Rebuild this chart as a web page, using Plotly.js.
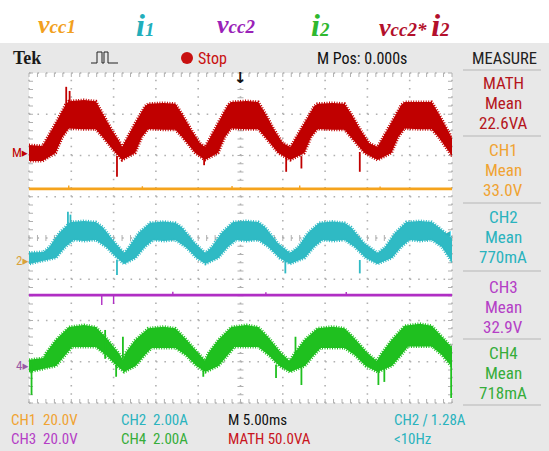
<!DOCTYPE html>
<html><head><meta charset="utf-8">
<script src="https://cdn.plot.ly/plotly-3.0.1.min.js"></script>
<style>html,body{margin:0;padding:0;background:#fff;}#chart{width:549px;height:451px;}</style>
</head><body><div id="chart"></div>
<script>
// ---------------- data (time in ms, 5.00 ms/div) ----------------
// MATH = vcc2*i2 (VA) : noisy band, upper / lower envelopes
const mathUpperT = [-25,-23.4,-21.85,-20.7,-20.3,-18.5,-17.1,-16.3,-15.2,-14.2,-14.0,-12.45,-11.3,-10.9,-9.1,-7.7,-6.9,-5.8,-4.8,-4.2,-2.65,-1.5,-1.1,0.7,2.1,2.9,4.0,5.0,5.9,7.55,8.7,9.1,10.9,12.3,13.1,14.2,15.2,16.2,17.85,19.0,19.4,21.2,22.6,23.4,24.5,25];
const mathUpperV = [8.5,7.3,35.2,57.0,61.5,63.0,61.5,47.3,26.7,10.9,6.1,35.2,55.5,58.5,59.5,58.5,46.0,26.7,10.9,6.1,35.2,57.0,60.6,61.8,60.6,47.3,26.7,10.9,6.1,35.2,55.5,58.5,59.5,58.5,46.0,26.7,10.9,6.1,35.2,57.0,60.6,61.0,60.6,47.3,26.7,17.0];
const mathLowerT = [-25,-23.4,-21.85,-21.05,-20.3,-18.5,-17.1,-16.3,-14.75,-14.0,-12.45,-11.65,-10.9,-9.1,-7.7,-6.9,-5.35,-4.2,-2.65,-1.85,-1.1,0.7,2.1,2.9,4.45,5.9,7.55,8.35,9.1,10.9,12.3,13.1,14.65,16.2,17.85,18.65,19.4,21.2,22.6,23.4,25];
const mathLowerV = [-10.9,-10.9,-1.2,18.2,28.5,27.5,27.5,18.2,-1.2,-9.7,-1.2,18.2,28.0,27.0,27.0,18.2,-1.2,-9.7,-1.2,18.2,28.5,27.5,27.5,18.2,-1.2,-9.7,-1.2,18.2,28.0,27.0,27.0,18.2,-1.2,-9.7,-1.2,18.2,28.5,27.5,27.5,18.2,-5.0];
const mathSpikeT    = [-20.6,-20.2,-14.6,-4.3,5.4,7.2,14.1];
const mathSpikeFrom = [40,50,-5,-5,-5,-5,0];
const mathSpikeTo   = [79,74,-30,-16,-24,-20,-24];

// CH1 = vcc1 (V)
const ch1T = [-25,25];
const ch1V = [33.0,33.0];
const ch1SpikeT = [-20.3,-11.6,-1.0,7.0,16.5];
const ch1SpikeFrom = [33.0,33.0,33.0,33.0,33.0];
const ch1SpikeTo = [34.6,34.3,34.4,34.6,34.2];

// CH2 = i1 (A)
const ch2UpperT = [-25,-23.3,-22.6,-21.45,-20.1,-18.5,-17.1,-16.3,-14.8,-13.75,-13.2,-12.05,-10.7,-9.1,-7.7,-6.9,-5.4,-4.15,-3.4,-2.25,-0.9,0.7,2.1,2.9,4.4,5.85,6.8,7.95,9.3,10.9,12.3,13.1,14.6,16.2,17.1,18.25,19.6,21.2,22.6,23.4,25];
const ch2UpperV = [0.36,0.39,0.63,1.31,1.84,1.89,1.84,1.60,0.82,0.34,0.63,1.31,1.80,1.86,1.80,1.58,0.82,0.34,0.63,1.31,1.84,1.89,1.84,1.60,0.82,0.34,0.63,1.31,1.80,1.86,1.80,1.58,0.82,0.34,0.63,1.31,1.84,1.89,1.84,1.60,1.05];
const ch2LowerT = [-25,-21.8,-20.7,-19.7,-18.5,-17.1,-15.9,-14.6,-13.75,-12.4,-11.3,-10.3,-9.1,-7.7,-6.5,-5.2,-4.15,-2.6,-1.5,-0.5,0.7,2.1,3.3,4.6,5.85,7.6,8.7,9.7,10.9,12.3,13.5,14.8,16.2,17.9,19.0,20.0,21.2,22.6,23.8,25];
const ch2LowerV = [-0.19,0.10,0.63,0.97,0.92,0.97,0.63,0.10,-0.19,0.10,0.63,0.97,0.92,0.97,0.63,0.10,-0.19,0.10,0.63,0.97,0.92,0.97,0.63,0.10,-0.19,0.10,0.63,0.97,0.92,0.97,0.63,0.10,-0.19,0.10,0.63,0.97,0.92,0.97,0.63,-0.10];
const ch2SpikeT    = [-20.4,-20.1,-14.6,5.3,14.1];
const ch2SpikeFrom = [1.6,1.6,0,0,0];
const ch2SpikeTo   = [2.34,2.2,-0.73,-0.65,-0.65];

// CH3 = vcc2 (V)
const ch3T = [-25,25];
const ch3V = [32.9,32.9];
const ch3SpikeT = [-16.4,-15.0,-8.0,3.0,12.5];
const ch3SpikeFrom = [32.9,32.9,32.9,32.9,32.9];
const ch3SpikeTo = [28.1,28.6,34.5,34.3,34.4];

// CH4 = i2 (A)
const ch4UpperT = [-25,-23.3,-23.0,-21.85,-20.3,-18.5,-17.1,-15.95,-14.4,-13.9,-13.6,-12.45,-10.9,-9.1,-7.7,-6.55,-5.0,-4.2,-3.8,-2.65,-1.1,0.7,2.1,3.25,4.8,5.8,6.4,7.55,9.1,10.9,12.3,13.45,15.0,16.1,16.7,17.85,19.4,21.2,22.6,23.75,25];
const ch4UpperV = [0.25,0.34,0.58,1.21,1.84,1.94,1.84,1.36,0.58,0.25,0.58,1.21,1.78,1.86,1.78,1.30,0.58,0.22,0.58,1.21,1.84,1.94,1.84,1.36,0.58,0.20,0.58,1.21,1.78,1.86,1.78,1.30,0.58,0.20,0.58,1.21,1.90,2.00,1.90,1.40,0.85];
const ch4LowerT = [-25,-21.8,-20.7,-19.9,-18.5,-17.1,-15.9,-14.6,-13.75,-12.4,-11.3,-10.5,-9.1,-7.7,-6.5,-5.2,-4.15,-2.6,-1.5,-0.7,0.7,2.1,3.3,4.6,5.85,7.6,8.7,9.5,10.9,12.3,13.5,14.8,16.2,17.9,19.0,19.8,21.2,22.6,23.8,25];
const ch4LowerV = [-0.34,-0.05,0.48,0.87,0.87,0.87,0.48,-0.05,-0.34,-0.05,0.48,0.82,0.82,0.82,0.48,-0.05,-0.34,-0.05,0.48,0.87,0.87,0.87,0.48,-0.05,-0.34,-0.05,0.48,0.82,0.82,0.82,0.48,-0.05,-0.34,-0.05,0.48,0.90,0.90,0.90,0.48,-0.10];
const ch4SpikeT    = [-24.7,-16.0,-14.7,-13.9,-4.4,4.2,6.5,7.2,16.3,17.0,24.9];
const ch4SpikeFrom = [0,0.3,0,0.3,0,0,0.3,0,0,0,0];
const ch4SpikeTo   = [-1.45,1.7,-0.57,1.37,-0.57,-0.63,1.37,-0.97,-0.97,-0.82,-1.6];

// measurement panel & labels
const measTitles = ['MATH','CH1','CH2','CH3','CH4'];
const measValues = ['22.6VA','33.0V','770mA','32.9V','718mA'];
const scaleRow1 = ['CH1  20.0V','CH2  2.00A','M 5.00ms','CH2 \u2215 1.28A'];
const scaleRow2 = ['CH3  20.0V','CH4  2.00A','MATH 50.0VA','<10Hz'];

// ---------------- styling / scope settings ----------------
const C = {math:'#c00000', ch1:'#f5a31c', ch2:'#2fbac4', ch3:'#b02ec4', ch4:'#1fc01f'};
const TXT = {math:'#b5151c', ch1:'#f0a332', ch2:'#2ab3be', ch3:'#b43ec6', ch4:'#36ad3a'};
// units/div and ground offset in divisions from screen centre
const chanCfg = {
  math:{scale:50, off:2.085}, ch1:{scale:20, off:-0.46}, ch2:{scale:2, off:-0.533},
  ch3:{scale:20, off:-3.03}, ch4:{scale:2, off:-3.079}
};
const L=29, R=452, T=73, B=403;
const W=R-L, H=B-T;
const X = p => (p-L)/W;
const Y = p => (B-p)/H;
const FONT = "'Liberation Sans Narrow','Roboto Condensed','DejaVu Sans Condensed',Roboto,sans-serif";

function band(t1,v1,t2,v2,color,ya){
  return {x:t1.concat(t2.slice().reverse()), y:v1.concat(v2.slice().reverse()),
    type:'scatter', mode:'lines', fill:'toself', fillcolor:color,
    line:{color:color,width:3,dash:'1px,1.5px'}, yaxis:ya, hoverinfo:'skip'};
}
function spikes(t,f,to,color,ya,w){
  const x=[],y=[];
  t.forEach((v,i)=>{x.push(v,v,null); y.push(f[i],to[i],null);});
  return {x:x,y:y,type:'scatter',mode:'lines',line:{color:color,width:w||1.6},yaxis:ya,hoverinfo:'skip'};
}
function line(t,v,color,ya,w){
  return {x:t,y:v,type:'scatter',mode:'lines',line:{color:color,width:w},yaxis:ya,hoverinfo:'skip'};
}

const traces = [
  // empty trace that anchors the graticule (division) axes as the main subplot
  {x:[], y:[], type:'scatter', mode:'lines', xaxis:'x', yaxis:'y', hoverinfo:'skip'},
  band(mathUpperT,mathUpperV,mathLowerT,mathLowerV,C.math,'y2'),
  spikes(mathSpikeT,mathSpikeFrom,mathSpikeTo,C.math,'y2',1.8),
  line(ch1T,ch1V,C.ch1,'y3',2.6),
  spikes(ch1SpikeT,ch1SpikeFrom,ch1SpikeTo,C.ch1,'y3',1.4),
  band(ch2UpperT,ch2UpperV,ch2LowerT,ch2LowerV,C.ch2,'y4'),
  spikes(ch2SpikeT,ch2SpikeFrom,ch2SpikeTo,C.ch2,'y4',1.8),
  line(ch3T,ch3V,C.ch3,'y5',2.8),
  spikes(ch3SpikeT,ch3SpikeFrom,ch3SpikeTo,C.ch3,'y5',1.4),
  band(ch4UpperT,ch4UpperV,ch4LowerT,ch4LowerV,C.ch4,'y6'),
  spikes(ch4SpikeT,ch4SpikeFrom,ch4SpikeTo,C.ch4,'y6',1.8)
];

function chanAxis(k){
  const c=chanCfg[k];
  return {overlaying:'y', anchor:'x', side:'left', autorange:false, fixedrange:true,
          showgrid:false, zeroline:false, showline:false, showticklabels:false, ticks:'',
          range:[(-4-c.off)*c.scale,(4-c.off)*c.scale]};
}

const grid = '#b0b0b0';
const annotations = [];
function ann(px,py,text,color,size,anchor,extra){
  annotations.push(Object.assign({xref:'paper',yref:'paper',x:X(px),y:Y(py),text:text,showarrow:false,borderpad:0,
    xanchor:anchor||'center',yanchor:'middle',font:{family:FONT,size:size,color:color}},extra||{}));
}
const SERIF = "'Liberation Serif','DejaVu Serif',serif";
function nm(px,text,color){ ann(px,25,text,color,19,'center',{font:{family:SERIF,size:19,color:color}}); }
const big = s=>'<span style="font-size:26px">'+s+'</span>';
const bigI = s=>'<span style="font-size:32px">'+s+'</span>';
nm(57,'<b><i>'+big('v')+'cc1</i></b>','#f2a020');
nm(145,'<b><i>'+bigI('i')+'1</i></b>','#22aebb');
nm(236,'<b><i>'+big('v')+'cc2</i></b>','#9a22b8');
nm(320,'<b><i>'+bigI('i')+'2</i></b>','#2fb82f');
nm(414,'<b><i>'+big('v')+'cc2* '+bigI('i')+'2</i></b>','#b3102c');

ann(12,58,'<b>Tek</b>','#1a1a1a',18,'left',{font:{family:SERIF,size:18,color:'#1a1a1a'}});
ann(197,58,'Stop','#c81010',16,'left');
ann(316,58,'M Pos: 0.000s','#111',16,'left');
ann(504,58,'MEASURE','#222',16.5,'center');
const measY=[83,150,217,287,353];
const measCol=[TXT.math,TXT.ch1,TXT.ch2,TXT.ch3,TXT.ch4];
measTitles.forEach((t,i)=>{
  ann(503,measY[i],t,measCol[i],17);
  ann(503,measY[i]+20,'Mean',measCol[i],17);
  ann(503,measY[i]+40,measValues[i],measCol[i],17);
});
const rowX=[10,120,227,393];
const row1Col=[TXT.ch1,TXT.ch2,'#111',TXT.ch2];
const row2Col=[TXT.ch3,TXT.ch4,'#c8141c',TXT.ch2];
scaleRow1.forEach((t,i)=>ann(rowX[i],419.5,t,row1Col[i],15,'left'));
scaleRow2.forEach((t,i)=>ann(rowX[i],438.5,t,row2Col[i],15,'left'));
ann(29,152,'M\u25B8',C.math,13,'right');
ann(29,260,'2\u25B8','#d9a23a',13,'right');
ann(29,365,'4\u25B8','#9a5aa6',13,'right');
ann(241,78,'<b>\u2193</b>','#111',15,'center',{font:{family:"'DejaVu Sans',sans-serif",size:15,color:'#111'}});
ann(452,233,'\u25C2','#2ab3be',12,'right');

// ----- graticule (10 x 8 divisions, 5 minor per division) -----
const shapes = [
  {type:'rect',xref:'paper',yref:'paper',x0:X(0),x1:X(549),y0:Y(43),y1:Y(0),fillcolor:'#ffffff',line:{width:0},layer:'below'}
];
const dxMinor = W/50, dyMinor = H/40;
for (let i=0;i<=10;i++) shapes.push({type:'line',xref:'paper',yref:'paper',x0:i/10,x1:i/10,y0:0,y1:1,layer:'below',
  line:{color:grid,width:1.6,dash:'1.6px,'+(dyMinor-1.6).toFixed(2)+'px'}});
for (let j=0;j<=8;j++) shapes.push({type:'line',xref:'paper',yref:'paper',x0:0,x1:1,y0:j/8,y1:j/8,layer:'below',
  line:{color:grid,width:1.6,dash:'1.6px,'+(dxMinor-1.6).toFixed(2)+'px'}});
let tp='';
for (let i=0;i<=50;i++){ const xp=(i/50).toFixed(4);
  tp+='M'+xp+',0 L'+xp+','+(4/H).toFixed(4)+' M'+xp+',1 L'+xp+','+(1-4/H).toFixed(4)+
      ' M'+xp+','+(0.5-3/H).toFixed(4)+' L'+xp+','+(0.5+3/H).toFixed(4)+' ';
}
for (let j=0;j<=40;j++){ const yp=(j/40).toFixed(4);
  tp+='M0,'+yp+' L'+(4/W).toFixed(4)+','+yp+' M1,'+yp+' L'+(1-4/W).toFixed(4)+','+yp+
      ' M'+(0.5-3/W).toFixed(4)+','+yp+' L'+(0.5+3/W).toFixed(4)+','+yp+' ';
}
shapes.push({type:'path',xref:'paper',yref:'paper',path:tp,layer:'below',line:{color:grid,width:1}});
shapes.push(
  {type:'circle',xref:'paper',yref:'paper',x0:X(181),x1:X(193),y0:Y(64),y1:Y(52),fillcolor:'#c81010',line:{width:0}},
  {type:'path',xref:'paper',yref:'paper',path:
    'M'+X(91)+','+Y(63)+' L'+X(97)+','+Y(63)+' L'+X(97)+','+Y(52)+' L'+X(102)+','+Y(52)+' L'+X(102)+','+Y(63)+
    ' L'+X(104)+','+Y(63)+' L'+X(104)+','+Y(52)+' L'+X(108)+','+Y(52)+' L'+X(108)+','+Y(63)+' L'+X(118)+','+Y(63),
    line:{color:'#222',width:1}});
[70,136,203,271,339,405].forEach(py=>shapes.push({type:'line',xref:'paper',yref:'paper',x0:X(463),x1:X(541),y0:Y(py),y1:Y(py),line:{color:'#cfcfcf',width:2}}));

const axBase = {autorange:false, showgrid:false, zeroline:false, showline:false, showticklabels:false, ticks:'', fixedrange:true};
const layout = {
  width:549, height:451, margin:{l:L,r:549-R,t:T,b:451-B,pad:0},
  paper_bgcolor:'#e8e8e8', plot_bgcolor:'#ffffff', showlegend:false,
  xaxis:Object.assign({anchor:'y', range:[-25,25]}, axBase),
  yaxis:Object.assign({anchor:'x', range:[-4,4]}, axBase),
  yaxis2:chanAxis('math'), yaxis3:chanAxis('ch1'), yaxis4:chanAxis('ch2'), yaxis5:chanAxis('ch3'), yaxis6:chanAxis('ch4'),
  annotations:annotations, shapes:shapes
};
Plotly.newPlot('chart', traces, layout, {staticPlot:true, displayModeBar:false});
</script></body></html>
